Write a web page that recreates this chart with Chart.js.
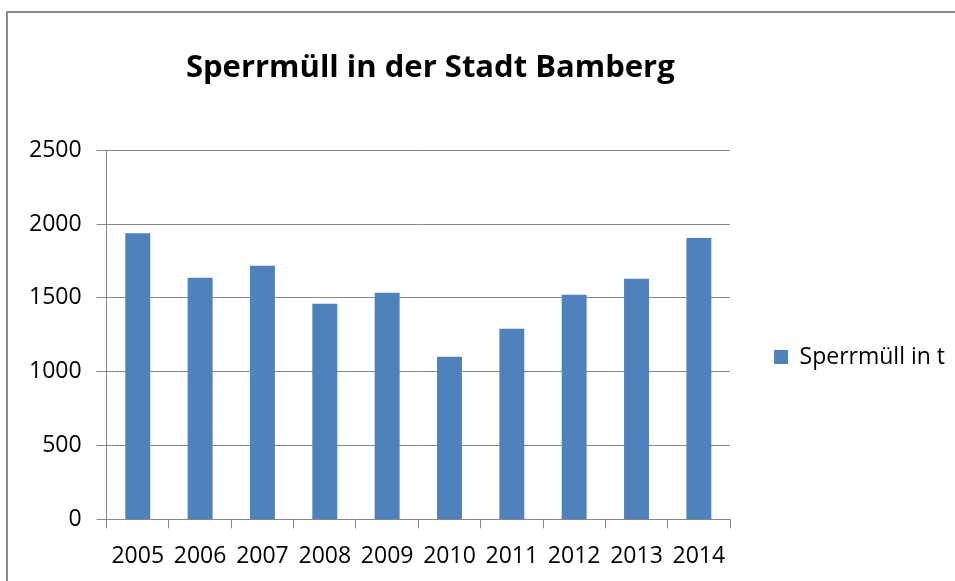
<!DOCTYPE html>
<html>
<head>
<meta charset="utf-8">
<script src="https://cdn.jsdelivr.net/npm/chart.js@4.4.0/dist/chart.umd.min.js"></script>
<style>
  html, body { margin: 0; padding: 0; background: #fff; overflow: hidden; }
  #wrap { position: relative; width: 955px; height: 581px; }
  #frame {
    position: absolute; left: 6px; top: 11px; width: 1000px; height: 1000px;
    border-left: 2px solid #8a8a8a; border-top: 2px solid #8a8a8a;
  }
  #chart { position: absolute; left: 0; top: 0; }
</style>
</head>
<body>
<div id="wrap">
  <div id="frame"></div>
  <canvas id="chart" width="955" height="581"></canvas>
</div>
<script>
const years = ['2005', '2006', '2007', '2008', '2009', '2010', '2011', '2012', '2013', '2014'];
const sperrmuell = [1938, 1636, 1717, 1460, 1535, 1102, 1291, 1521, 1629, 1906];
const seriesName = 'Sperrmüll in t';
const chartTitle = 'Sperrmüll in der Stadt Bamberg';

const FONT = '"Open Sans", "Liberation Sans", sans-serif';
const GRID = '#888888';

// title sits a little right of the plot centre in the original
const titleNudge = {
  id: 'titleNudge',
  afterLayout(chart) {
    const t = chart.titleBlock;
    if (!t) return;
    t.left += 12;
    t.right += 12;
  }
};

const ctx = document.getElementById('chart').getContext('2d');

new Chart(ctx, {
  type: 'bar',
  data: {
    labels: years,
    datasets: [{
      label: seriesName,
      data: sperrmuell,
      backgroundColor: '#4f81bd',
      borderWidth: 0,
      barPercentage: 0.4,
      categoryPercentage: 1.0
    }]
  },
  plugins: [titleNudge],
  options: {
    responsive: false,
    animation: false,
    layout: { padding: { left: 14, right: 0, top: 50, bottom: -3 } },
    plugins: {
      title: {
        display: true,
        text: chartTitle,
        fullSize: false,
        color: '#000',
        font: { family: FONT, size: 31, weight: 'bold' },
        padding: { top: 0, bottom: 63 }
      },
      legend: {
        position: 'right',
        // empty title only pushes the entry down a bit
        title: { display: true, text: ' ', font: { size: 10 }, padding: { top: 68, bottom: 0 } },
        labels: {
          color: '#000',
          font: { family: FONT, size: 23 },
          boxWidth: 14,
          boxHeight: 14,
          padding: 44
        }
      },
      tooltip: { enabled: false }
    },
    scales: {
      x: {
        grid: {
          display: true,
          drawOnChartArea: false,
          drawTicks: true,
          tickLength: 9,
          color: GRID,
          offset: true
        },
        border: { color: GRID, width: 1 },
        ticks: {
          color: '#000',
          font: { family: FONT, size: 23 },
          padding: 14,
          maxRotation: 0
        }
      },
      y: {
        min: 0,
        max: 2500,
        grid: {
          color: GRID,
          lineWidth: 1,
          tickLength: 10
        },
        border: { color: GRID, width: 1 },
        ticks: {
          stepSize: 500,
          color: '#000',
          font: { family: FONT, size: 23 },
          padding: 15,
          callback: v => String(v)
        }
      }
    }
  }
});
</script>
</body>
</html>
